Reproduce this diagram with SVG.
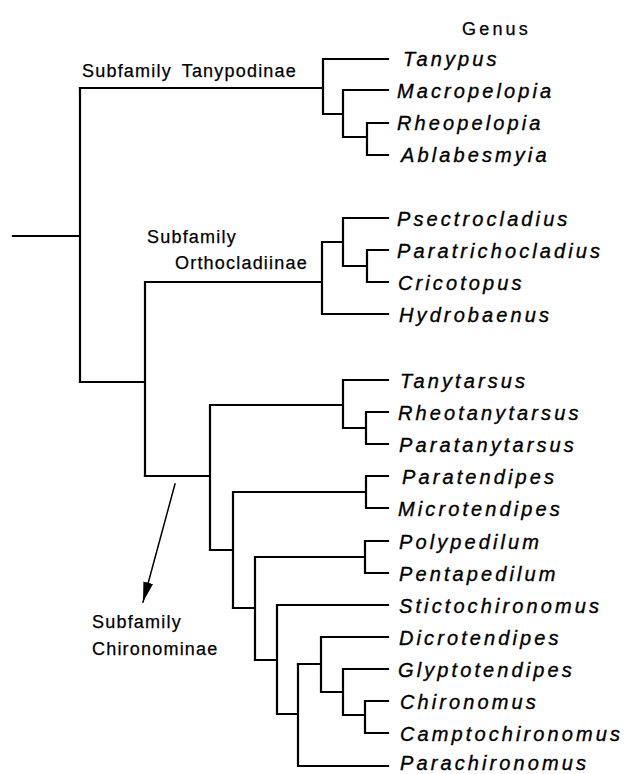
<svg xmlns="http://www.w3.org/2000/svg" width="629" height="774" viewBox="0 0 629 774">
<defs>
<style>
.br{fill:none;stroke:#000;stroke-width:2.2;stroke-linecap:square}
.g{font-family:"Liberation Sans",Arial,sans-serif;font-style:italic;font-size:20px;letter-spacing:3.1px;fill:#000;stroke:#000;stroke-width:0.35px}
.sf{font-family:"Liberation Sans",Arial,sans-serif;font-size:18px;letter-spacing:1.2px;fill:#000;stroke:#000;stroke-width:0.25px}
</style>
<marker id="ah" viewBox="0 0 20 10" refX="20" refY="5" markerWidth="20" markerHeight="10" markerUnits="userSpaceOnUse" orient="auto">
<path d="M0,0 L20,5 L0,10 Z" fill="#000"/>
</marker>
</defs>
<rect width="629" height="774" fill="#fff"/>
<g id="connectors" class="br">
<path d="M13,236 H80 M80,88 V382"/>
<path d="M80,88 H323 M323,59 V114 M323,59 H388 M323,114 H343 M343,90 V137 M343,90 H388 M343,137 H367 M367,123 V155 M367,123 H388 M367,155 H388"/>
<path d="M80,382 H145 M145,282 V476 M145,282 H322 M322,242 V314 M322,314 H388 M322,242 H343 M343,218 V266 M343,218 H388 M343,266 H367 M367,250 V282 M367,250 H388 M367,282 H388"/>
<path d="M145,476 H210 M210,405 V550 M210,405 H343 M343,380 V428 M343,380 H388 M343,428 H366 M366,412 V444 M366,412 H388 M366,444 H388"/>
<path d="M210,550 H233 M233,492 V608 M233,492 H366 M366,476 V508 M366,476 H388 M366,508 H388"/>
<path d="M233,608 H255 M255,557 V660 M255,557 H365 M365,541 V573 M365,541 H388 M365,573 H388"/>
<path d="M255,660 H277 M277,605 V714 M277,605 H388 M277,714 H298 M298,664 V766 M298,766 H388"/>
<path d="M298,664 H321 M321,637 V692 M321,637 H388 M321,692 H343 M343,669 V715 M343,669 H388 M343,715 H365 M365,701 V733 M365,701 H388 M365,733 H388"/>
<path d="M175,484 L143,602" style="stroke-width:1.5" marker-end="url(#ah)"/>
</g>
<g id="labels">
<text class="sf" x="462" y="35" style="letter-spacing:3.2px">Genus</text>
<text class="sf" x="82" y="77" style="word-spacing:4px">Subfamily Tanypodinae</text>
<text class="sf" x="147" y="243">Subfamily</text>
<text class="sf" x="175" y="269">Orthocladiinae</text>
<text class="sf" x="92" y="628">Subfamily</text>
<text class="sf" x="92" y="655">Chironominae</text>
</g>
<g id="n-tanypus"><text class="g" x="403" y="66">Tanypus</text></g>
<g id="n-macropelopia"><text class="g" x="397" y="98">Macropelopia</text></g>
<g id="n-rheopelopia"><text class="g" x="397" y="130">Rheopelopia</text></g>
<g id="n-ablabesmyia"><text class="g" x="401" y="162">Ablabesmyia</text></g>
<g id="n-psectrocladius"><text class="g" x="397" y="226">Psectrocladius</text></g>
<g id="n-paratrichocladius"><text class="g" x="397" y="258">Paratrichocladius</text></g>
<g id="n-cricotopus"><text class="g" x="398" y="290">Cricotopus</text></g>
<g id="n-hydrobaenus"><text class="g" x="399" y="322">Hydrobaenus</text></g>
<g id="n-tanytarsus"><text class="g" x="400" y="388">Tanytarsus</text></g>
<g id="n-rheotanytarsus"><text class="g" x="398" y="420">Rheotanytarsus</text></g>
<g id="n-paratanytarsus"><text class="g" x="399" y="452">Paratanytarsus</text></g>
<g id="n-paratendipes"><text class="g" x="402" y="484">Paratendipes</text></g>
<g id="n-microtendipes"><text class="g" x="398" y="516">Microtendipes</text></g>
<g id="n-polypedilum"><text class="g" x="399" y="549">Polypedilum</text></g>
<g id="n-pentapedilum"><text class="g" x="399" y="581">Pentapedilum</text></g>
<g id="n-stictochironomus"><text class="g" x="399" y="613">Stictochironomus</text></g>
<g id="n-dicrotendipes"><text class="g" x="399" y="645">Dicrotendipes</text></g>
<g id="n-glyptotendipes"><text class="g" x="398" y="677">Glyptotendipes</text></g>
<g id="n-chironomus"><text class="g" x="400" y="709">Chironomus</text></g>
<g id="n-camptochironomus"><text class="g" x="400" y="741">Camptochironomus</text></g>
<g id="n-parachironomus"><text class="g" x="400" y="770">Parachironomus</text></g>
</svg>
